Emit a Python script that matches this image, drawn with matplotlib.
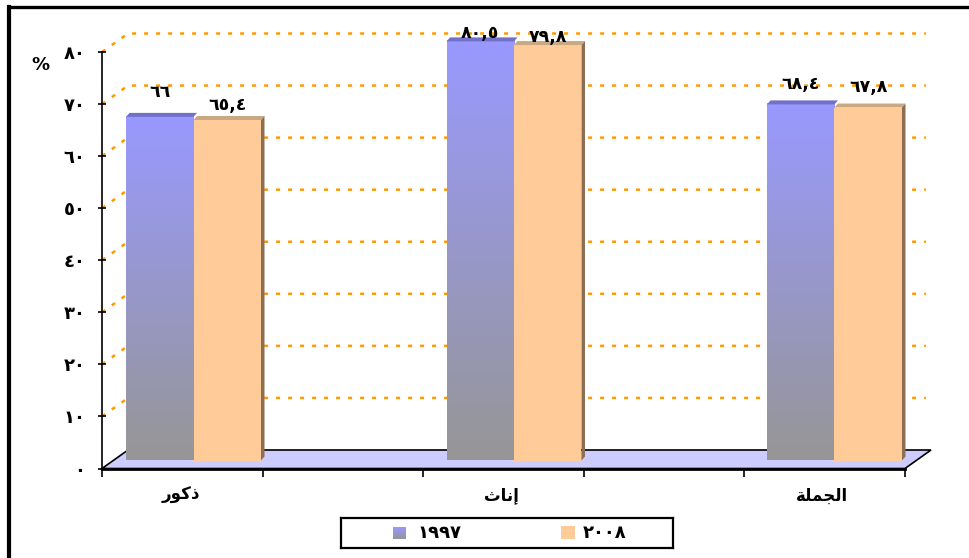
"""
Bar chart 1997 / 2008 (pseudo 3D, Excel style)
"""

import numpy as np
import matplotlib
matplotlib.use("Agg")
import matplotlib.pyplot as plt
from matplotlib.colors import LinearSegmentedColormap
from matplotlib.patches import Polygon, Rectangle
from matplotlib.lines import Line2D

# data
# arabic labels written in visual order with presentation forms (no shaping in mpl)
categories = ["\uFEAD\uFEEE\uFEDB\uFEAB",                 # ذكور
              "\uFE99\uFE8E\uFEE7\uFE87",                 # إناث
              "\uFE94\uFEE0\uFEE4\uFEA0\uFEDF\uFE8D"]     # الجملة
series_names = ["1997", "2008"]
values_1997 = [66, 80.5, 68.4]
values_2008 = [65.4, 79.8, 67.8]
y_ticks = list(range(0, 90, 10))

# label nudges above bar tops (px), tweaked to the picture
label_dy = [[25, 15], [8, 8], [20, 21]]

AR_DIGITS = str.maketrans("0123456789.", "٠١٢٣٤٥٦٧٨٩,")


def ar(v):
    return f"{v:g}".translate(AR_DIGITS)


BLUE = "#9999FF"
GREY = "#969696"
PEACH = "#FFCC99"
ORANGE = "#FF9900"

plt.rcParams["font.family"] = ["DejaVu Sans"]
plt.rcParams["font.weight"] = "bold"

fig = plt.figure(figsize=(9.69, 5.58), dpi=100)
W, H = 969, 558
ax = fig.add_axes([102 / W, 1 - 468.5 / H, 803 / W, 416.5 / H])
x0, x1 = -0.2465, 2.259
ax.set_xlim(x0, x1)
ax.set_ylim(0, 80)


def px(dx, dy):
    # pixel offset -> data offset
    s = ax.transData.transform((1, 1)) - ax.transData.transform((0, 0))
    return dx / s[0], dy / s[1]


bdx, bdy = px(26, 18.5)    # back wall depth
cdx, cdy = px(12.5, 8)     # bars sit half way in
tdx, tdy = px(3.5, 4)      # depth of a bar
w = 0.2106

# back wall grid
for v in y_ticks[1:]:
    ax.plot([x0, x0 + bdx, x1 + bdx * 0.8], [v, v + bdy, v + bdy],
            color=ORANGE, lw=1.8, linestyle=(0, (1.6, 3.2)),
            clip_on=False, zorder=1, solid_capstyle="butt")

# floor
floor = Polygon([(x0, 0), (x1, 0), (x1 + bdx, bdy), (x0 + bdx, bdy)],
                closed=True, facecolor="#CCCCFF", edgecolor="black",
                lw=1.2, zorder=2, clip_on=False)
ax.add_patch(floor)

cmap = LinearSegmentedColormap.from_list("g", [GREY, BLUE])
grad = np.linspace(0, 1, 256).reshape(-1, 1)

for i in range(len(categories)):
    # 1997 bar with gradient
    xa = i - w + cdx
    top = values_1997[i] + cdy
    r = Rectangle((xa, cdy), w, values_1997[i], facecolor="none",
                  edgecolor="none", zorder=3, clip_on=False)
    ax.add_patch(r)
    im = ax.imshow(grad, extent=[xa, xa + w, cdy, top], origin="lower",
                   cmap=cmap, aspect="auto", zorder=3, clip_on=False)
    im.set_clip_path(r)
    ax.add_patch(Polygon([(xa, top), (xa + w, top), (xa + w + tdx, top + tdy),
                          (xa + tdx, top + tdy)], facecolor="#7171C9",
                         edgecolor="none", zorder=4, clip_on=False))

    # 2008 bar
    xb = i + cdx
    top2 = values_2008[i] + cdy
    ax.bar(xb, values_2008[i], bottom=cdy, width=w, align="edge",
           color=PEACH, zorder=5, clip_on=False)
    ax.add_patch(Polygon([(xb, top2), (xb + w, top2), (xb + w + tdx, top2 + tdy),
                          (xb + tdx, top2 + tdy)], facecolor="#C9A882",
                         edgecolor="none", zorder=6, clip_on=False))
    ax.add_patch(Polygon([(xb + w, cdy), (xb + w + tdx, cdy + tdy),
                          (xb + w + tdx, top2 + tdy), (xb + w, top2)],
                         facecolor="#8C6E52", edgecolor="none", zorder=6,
                         clip_on=False))

    # value labels
    for xc, v, t, d in [(xa + w / 2, values_1997[i], top, label_dy[i][0]),
                        (xb + w / 2, values_2008[i], top2, label_dy[i][1])]:
        ax.annotate(ar(v), (xc, t), xytext=(0, d * 0.72),
                    textcoords="offset points", ha="center", va="center",
                    fontsize=12.5, fontweight="bold", zorder=8,
                    annotation_clip=False)

    ax.annotate(categories[i], (i, 0), xytext=(0, -27 * 0.72),
                textcoords="offset points", ha="center", va="center",
                fontsize=12, fontweight="bold", annotation_clip=False)

ax.set_yticks(y_ticks)
ax.set_yticklabels([ar(v) for v in y_ticks], fontsize=13, fontweight="bold")
ax.set_xticks(np.linspace(x0, x1, 6))
ax.set_xticklabels([])
ax.tick_params(axis="y", direction="inout", length=6, width=1.2, pad=9)
ax.tick_params(axis="x", direction="out", length=6, width=1.2)
for s in ["top", "right"]:
    ax.spines[s].set_visible(False)
ax.spines["left"].set_linewidth(1.2)
ax.spines["bottom"].set_linewidth(2)
ax.spines["bottom"].set_zorder(7)
ax.patch.set_visible(False)

fig.text(40 / W, 1 - 65 / H, "%", ha="center", va="center",
         fontsize=13, fontweight="bold")

# outer frame (cut by the picture edges)
fig.add_artist(Line2D([9 / W, 1], [1 - 7 / H, 1 - 7 / H], color="black",
                      lw=2.4, transform=fig.transFigure))
fig.add_artist(Line2D([9 / W, 9 / W], [0, 1 - 7 / H], color="black",
                      lw=3, transform=fig.transFigure))

# legend
lg = fig.add_axes([341 / W, 1 - 548 / H, 332 / W, 30 / H])
lg.set_xticks([])
lg.set_yticks([])
for s in lg.spines.values():
    s.set_linewidth(1.6)
lg.imshow(grad, extent=[52, 65, 9, 21], origin="lower", cmap=cmap,
          aspect="auto")
lg.add_patch(Rectangle((220, 9), 14, 13, facecolor=PEACH, edgecolor="none"))
lg.text(76, 15, series_names[0].translate(AR_DIGITS), va="center",
        ha="left", fontsize=13, fontweight="bold")
lg.text(242, 15, series_names[1].translate(AR_DIGITS), va="center",
        ha="left", fontsize=13, fontweight="bold")
lg.set_xlim(0, 332)
lg.set_ylim(0, 30)

fig.savefig("out.png", dpi=100)
